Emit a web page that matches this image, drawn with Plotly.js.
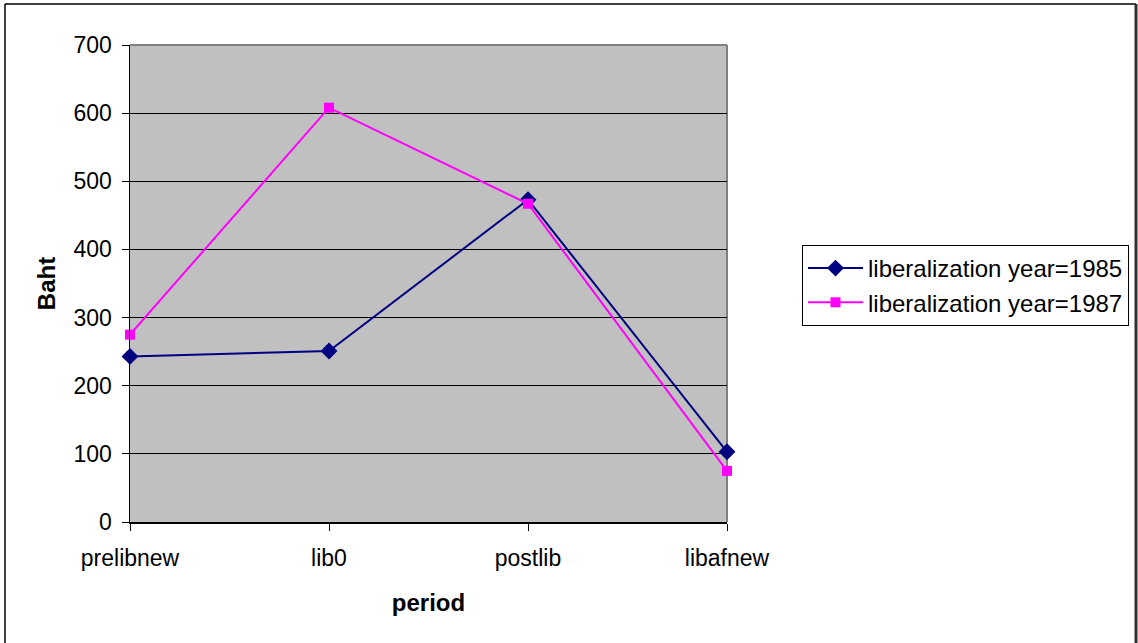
<!DOCTYPE html>
<html>
<head>
<meta charset="utf-8">
<script src="https://cdn.plot.ly/plotly-3.0.1.min.js"></script>
<style>
  html, body { margin: 0; padding: 0; background: #ffffff; }
  #chart { width: 1138px; height: 643px; }
</style>
</head>
<body>
<div id="chart"></div>
<script>
// ---- data ----
const periods = ["prelibnew", "lib0", "postlib", "libafnew"];
const year1985 = [243, 251, 473, 103];
const year1987 = [275, 608, 467, 75];
const seriesNames = ["liberalization year=1985", "liberalization year=1987"];
const yTicks = [0, 100, 200, 300, 400, 500, 600, 700];

const FONT = "Liberation Sans, Arial, sans-serif";

const traces = [
  {
    x: periods, y: year1985, name: seriesNames[0], type: "scatter", mode: "lines+markers",
    cliponaxis: false,
    line: { color: "#000080", width: 2 },
    marker: { symbol: "diamond", size: 13, color: "#000080" }
  },
  {
    x: periods, y: year1987, name: seriesNames[1], type: "scatter", mode: "lines+markers",
    cliponaxis: false,
    line: { color: "#FF00FF", width: 2 },
    marker: { symbol: "square", size: 10, color: "#FF00FF" }
  }
];

const L = 130, R = 1138 - 727, T = 45, B = 643 - 522;
const PW = 1138 - L - R, PH = 643 - T - B;
const px = v => (v - L) / PW;
const py = v => (643 - B - v) / PH;

const layout = {
  width: 1138, height: 643,
  margin: { l: L, r: R, t: T, b: B, pad: 0, autoexpand: false },
  paper_bgcolor: "#ffffff",
  plot_bgcolor: "#C0C0C0",
  font: { family: FONT, size: 23, color: "#000000" },
  showlegend: true,
  legend: {
    x: px(802), y: py(245), xanchor: "left", yanchor: "top",
    bgcolor: "#ffffff", bordercolor: "#000000", borderwidth: 1,
    font: { family: FONT, size: 24, color: "#000000" },
    itemwidth: 55
  },
  xaxis: {
    type: "category",
    range: [0, periods.length - 1],
    automargin: false,
    showgrid: false, zeroline: false,
    showline: true, linecolor: "#000000", linewidth: 1.5,
    ticks: "outside", ticklen: 7, tickcolor: "#000000", tickwidth: 1,
    ticklabelstandoff: 8,
    tickfont: { family: FONT, size: 23 },
    title: { text: "<b>period</b>", font: { family: FONT, size: 24 }, standoff: 24 },
    fixedrange: true
  },
  yaxis: {
    range: [0, 700],
    automargin: false,
    tickvals: yTicks,
    ticktext: yTicks.map(String),
    showgrid: true, gridcolor: "#000000", gridwidth: 1,
    zeroline: false,
    showline: true, linecolor: "#000000", linewidth: 1.5,
    ticks: "outside", ticklen: 7, tickcolor: "#000000", tickwidth: 1,
    ticklabelstandoff: 5,
    tickfont: { family: FONT, size: 23 },
    title: { text: "<b>Baht</b>", font: { family: FONT, size: 24 }, standoff: 11 },
    fixedrange: true
  },
  shapes: [
    // plot area top/right border (grey)
    { type: "line", xref: "paper", yref: "paper", x0: 0, x1: 1, y0: 1, y1: 1,
      line: { color: "#808080", width: 2 }, layer: "above" },
    { type: "line", xref: "paper", yref: "paper", x0: 1, x1: 1, y0: 0, y1: 1,
      line: { color: "#808080", width: 2 }, layer: "below" },
    // outer chart border
    { type: "line", xref: "paper", yref: "paper", x0: px(5), x1: px(1136), y0: py(4), y1: py(4),
      line: { color: "#000000", width: 1.5 }, layer: "above" },
    { type: "line", xref: "paper", yref: "paper", x0: px(5), x1: px(5), y0: py(4), y1: py(660),
      line: { color: "#000000", width: 1.5 }, layer: "above" },
    { type: "line", xref: "paper", yref: "paper", x0: px(1136), x1: px(1136), y0: py(4), y1: py(660),
      line: { color: "#303030", width: 3 }, layer: "above" }
  ]
};

Plotly.newPlot("chart", traces, layout, { displayModeBar: false, staticPlot: true });
</script>
</body>
</html>
